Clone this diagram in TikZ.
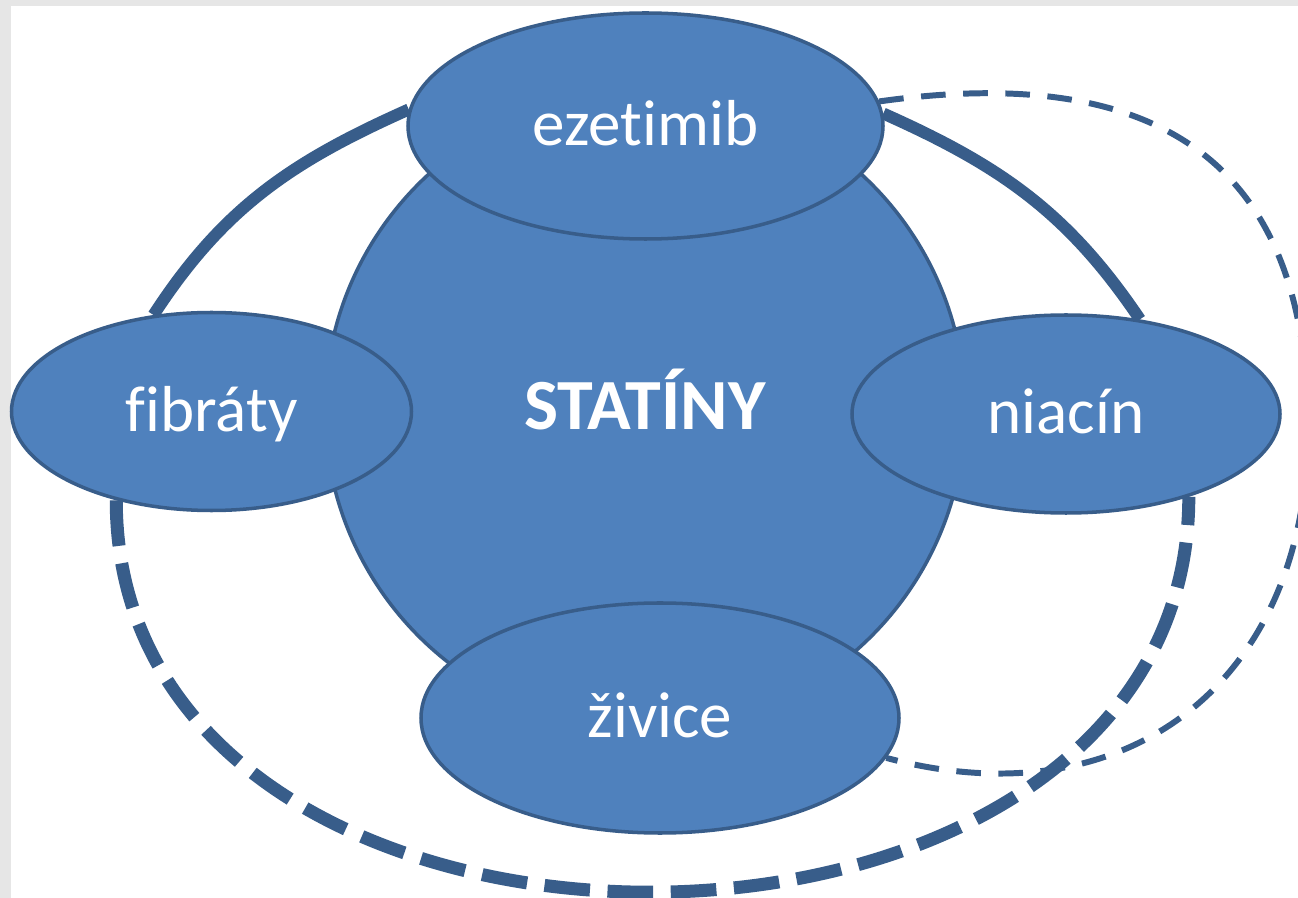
\documentclass[tikz,border=0pt]{standalone}
\usepackage{fontspec}
\setmainfont[Ligatures={NoCommon}]{Carlito}
\usetikzlibrary{shapes,backgrounds}
\definecolor{lekblue}{HTML}{4F81BD}
\definecolor{lekline}{HTML}{385D8A}
\definecolor{ramec}{HTML}{E6E6E6}

\begin{document}
\begin{tikzpicture}
  \tikzstyle{lek}=[ellipse, draw=lekline, line width=1pt, fill=lekblue, text=white, inner sep=0pt, text height=0.5cm, text depth=0.1cm, font=\fontsize{18.5}{22}\selectfont]
  \tikzstyle{spoj}=[draw=lekline, line width=3.4pt]
  \tikzstyle{spojcar}=[draw=lekline, line width=3.7pt, dash pattern=on 13pt off 5pt]
  \tikzstyle{slabyspoj}=[draw=lekline, line width=1.7pt, dash pattern=on 7pt off 5pt]

  \useasboundingbox (0,0) rectangle (12.98,-8.98);

  % Stred
  \node[lek, circle, minimum size=6.4cm, font=\fontsize{20.5}{24}\selectfont\bfseries] (statiny) at (6.45,-4.10) {STATÍNY};

  % Kombinacie
  \node[lek, minimum width=4.75cm, minimum height=2.26cm] (eze) at (6.455,-1.26) {ezetimib};
  \node[lek, minimum width=4.00cm, minimum height=1.98cm] (fib) at (2.115,-4.115) {fibráty};
  \node[lek, minimum width=4.28cm, minimum height=1.98cm] (nia) at (10.66,-4.14) {niacín};
  \node[lek, minimum width=4.78cm, minimum height=2.30cm] (ziv) at (6.60,-7.18) {živice};

  % Spojenia
  \begin{scope}[on background layer]
    \fill[ramec] (0,0) rectangle (12.98,-8.98);
    \fill[white] (0.11,-0.06) rectangle (12.98,-8.98);
    \draw[spoj] (fib.121) to[out=57,in=204] (eze.176);
    \draw[spoj] (eze.3) to[out=-24,in=124] (nia.52);
    \coordinate (vpravo) at (13.08,-4.29);
    \draw[slabyspoj] (eze.6) to[out=8,in=90,looseness=1.3] (vpravo) to[out=-90,in=-15,looseness=1.2] (ziv.-10);
    \draw[spojcar] (fib.223) to[out=-90,in=-90,looseness=1.25] (nia.-34);
  \end{scope}
\end{tikzpicture}
\end{document}
